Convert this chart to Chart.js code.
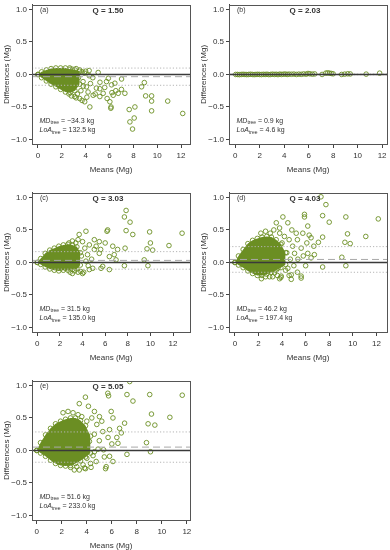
<!DOCTYPE html>
<html>
<head>
<meta charset="utf-8">
<script src="https://cdn.jsdelivr.net/npm/chart.js@4.4.1/dist/chart.umd.min.js"></script>
<style>
  html, body { margin: 0; padding: 0; background: #fff; }
  #wrap { position: relative; width: 390px; height: 550px; overflow: hidden; }
  .panel { position: absolute; }
</style>
</head>
<body>
<div id="wrap">
  <div class="panel" style="left:0;top:0;"><canvas id="pa" width="195" height="176"></canvas></div>
  <div class="panel" style="left:197px;top:0;"><canvas id="pb" width="195" height="176"></canvas></div>
  <div class="panel" style="left:0;top:188px;"><canvas id="pc" width="195" height="176"></canvas></div>
  <div class="panel" style="left:197px;top:188px;"><canvas id="pd" width="195" height="176"></canvas></div>
  <div class="panel" style="left:0;top:376px;"><canvas id="pe" width="195" height="174"></canvas></div>
</div>
<script>
const PANEL_TAGS = ['(a)', '(b)', '(c)', '(d)', '(e)'];
const Q_VALUES = ['1.50', '2.03', '3.03', '4.03', '5.05'];
const MD_KG = [-34.3, 0.9, 31.5, 46.2, 51.6];
const LOA_KG = [132.5, 4.6, 135.0, 197.4, 233.0];
const X_TICKS = [0, 2, 4, 6, 8, 10, 12];
const Y_TICKS = [-1, -0.5, 0, 0.5, 1];
const X_MIN = [-0.5, -0.5, -0.47, -0.5, -0.38];
const X_MAX = [12.75, 12.4, 13.5, 12.9, 12.25];

// dense cores (upper / lower edge of the solid cloud)
const CORE_UP_A = [[0,0],[0.3,0.04],[0.7,0.07],[1.1,0.09],[1.5,0.1],[1.9,0.1],[2.3,0.1],[2.7,0.08],[3.1,0.07],[3.5,0.05]];
const CORE_LO_A = [[0,0],[0.3,-0.05],[0.7,-0.1],[1.1,-0.15],[1.5,-0.19],[1.9,-0.23],[2.3,-0.27],[2.7,-0.28],[3.1,-0.25],[3.5,-0.15]];
const CORE_UP_C = [[0,0],[0.3,0.06],[0.7,0.14],[1.1,0.19],[1.5,0.22],[1.9,0.25],[2.3,0.27],[2.7,0.28],[3.1,0.27],[3.5,0.24],[3.8,0.15]];
const CORE_LO_C = [[0,0],[0.3,-0.03],[0.7,-0.07],[1.1,-0.1],[1.5,-0.12],[1.9,-0.13],[2.3,-0.12],[2.7,-0.12],[3.1,-0.11],[3.5,-0.1],[3.8,-0.04]];
const CORE_UP_D = [[0,0],[0.3,0.1],[0.7,0.2],[1.1,0.29],[1.5,0.34],[1.9,0.37],[2.3,0.39],[2.7,0.4],[3.1,0.39],[3.5,0.35],[3.9,0.28],[4.3,0.15]];
const CORE_LO_D = [[0,0],[0.3,-0.04],[0.7,-0.08],[1.1,-0.13],[1.5,-0.17],[1.9,-0.2],[2.3,-0.2],[2.7,-0.18],[3.1,-0.15],[3.5,-0.12],[3.9,-0.08],[4.3,-0.03]];
const CORE_UP_E = [[0,0],[0.3,0.12],[0.7,0.24],[1.1,0.34],[1.5,0.41],[1.9,0.45],[2.3,0.48],[2.7,0.5],[3.1,0.5],[3.5,0.46],[3.9,0.38],[4.3,0.22]];
const CORE_LO_E = [[0,0],[0.3,-0.04],[0.7,-0.09],[1.1,-0.15],[1.5,-0.2],[1.9,-0.23],[2.3,-0.24],[2.7,-0.23],[3.1,-0.2],[3.5,-0.16],[3.9,-0.1],[4.3,-0.04]];

// scattered trees (mean, difference) in Mg
const PTS_A = [[2.66,0.1],[2.9,0.08],[3.2,0.09],[3.5,0.07],[3.7,0.04],[4.0,0.05],[4.29,0.06],[5.05,0.03],
  [3.0,-0.2],[3.3,-0.3],[3.6,-0.25],[3.8,-0.18],[3.08,-0.34],[3.5,-0.37],[3.92,-0.42],[4.35,-0.5],[4.2,-0.27],
  [4.4,-0.14],[4.63,-0.32],[4.8,-0.3],[4.9,-0.21],[5.19,-0.22],[5.19,-0.34],[5.2,-0.12],[3.78,-0.11],[4.07,-0.19],
  [3.4,-0.05],[3.9,0.02],[4.3,-0.02],[4.6,-0.05],[5.47,-0.29],[5.6,-0.2],[5.75,-0.11],[5.8,-0.37],[5.9,-0.06],
  [6.03,-0.42],[6.11,-0.52],[6.13,-0.5],[6.17,-0.16],[6.2,-0.28],[6.31,-0.32],[6.45,-0.135],[6.53,-0.25],[6.73,-0.29],
  [7.01,-0.07],[7.0,-0.23],[7.29,-0.29],[7.65,-0.54],[7.71,-0.73],[7.93,-0.84],[8.07,-0.67],[8.13,-0.5],[8.69,-0.19],
  [8.92,-0.125],[9.03,-0.33],[9.53,-0.33],[9.53,-0.41],[9.53,-0.56],[10.88,-0.41],[12.14,-0.6],
  [2.8,-0.33],[3.2,-0.36],[3.7,-0.4],[4.1,-0.35],[2.6,-0.3]];
const PTS_B = [[0.05,0],[0.2,0],[0.35,-0.003],[0.5,0],[0.65,0.002],[0.8,0],[0.95,-0.002],[1.1,0],[1.25,0.003],
  [1.4,0],[1.55,-0.002],[1.7,0],[1.85,0.002],[2.0,0],[2.15,-0.002],[2.3,0.002],[2.45,0],[2.6,0.003],[2.75,-0.002],
  [2.9,0],[3.05,0.004],[3.2,0],[3.35,0.003],[3.5,-0.002],[3.65,0.005],[3.8,0],[3.95,0.004],[4.1,0.006],[4.25,0],
  [4.4,0.005],[4.6,0.003],[4.8,0.006],[5.0,0],[5.2,0.005],[5.4,0.002],[5.6,0.008],[5.8,0.004],[5.95,0.015],
  [6.1,0.01],[6.3,0.005],[6.5,0.008],[7.1,0],[7.4,0.02],[7.55,0.025],[7.7,0.02],[7.85,0.015],[8.0,0.01],
  [8.7,0],[8.95,0.005],[9.2,0.01],[9.4,0.008],[10.7,0.005],[11.8,0.02]];
const PTS_C = [[7.85,0.8],[7.7,0.7],[8.2,0.62],[7.85,0.49],[8.44,0.43],[9.93,0.47],[12.8,0.45],[11.64,0.26],
  [10.0,0.3],[10.2,0.19],[9.7,0.21],[9.45,0.04],[9.78,-0.05],[7.7,-0.05],[7.76,0.22],[7.1,0.2],[6.67,0.25],
  [6.8,0.12],[6.96,0.04],[6.22,0.5],[6.16,0.48],[6.0,0.3],[5.48,0.32],[5.04,0.35],[4.3,0.48],[3.7,0.43],
  [5.78,-0.06],[5.63,-0.09],[6.37,-0.11],[4.9,-0.09],[3.85,-0.14],[4.0,-0.17],[4.6,-0.11],[3.1,-0.17],[2.5,-0.09],
  [5.04,0.2],[5.48,0.14],[4.44,0.12],[6.37,0.09],[4.6,0.27],[3.4,0.3],
  [2.8,0.3],[3.1,0.33],[3.6,0.35],[4.0,0.32],[4.2,0.22],[3.9,0.1],[4.3,0.02],[4.8,0.05],[5.2,0.25],[5.6,0.2],
  [4.5,-0.05],[3.6,-0.15],[4.1,-0.15],[3.3,-0.13],[2.9,-0.15]];
const PTS_D = [[7.3,1.01],[7.72,0.89],[8.0,0.62],[7.44,0.72],[9.41,0.7],[9.55,0.44],[9.33,0.31],[9.78,0.29],
  [11.1,0.4],[12.16,0.67],[9.07,0.08],[9.41,-0.05],[7.44,-0.07],[7.44,0.39],[7.08,0.31],[6.69,0.25],[5.9,0.74],
  [5.9,0.7],[6.18,0.56],[5.76,0.45],[5.2,0.45],[4.07,0.7],[3.51,0.61],[3.79,0.53],[4.49,0.61],[4.83,0.5],[6.46,0.38],
  [6.18,0.14],[6.46,0.07],[6.74,0.12],[5.62,0.22],[5.06,0.14],[5.34,0.05],[5.62,-0.21],[5.62,-0.24],[4.78,-0.19],
  [4.78,-0.26],[3.79,-0.25],[3.93,-0.21],[3.37,-0.16],[2.25,-0.25],[2.95,-0.22],[4.49,-0.09],[3.65,-0.09],
  [3.0,0.45],[3.3,0.5],[2.6,0.48],[2.2,0.45],[3.8,0.45],[4.2,0.4],[4.0,0.3],[4.6,0.35],[4.9,0.25],[5.3,0.35],
  [4.4,0.15],[4.7,0.05],[5.0,-0.05],[4.3,-0.12],[3.6,-0.2],[3.2,-0.22],[2.6,-0.22],[4.6,-0.2],[5.3,-0.15],
  [3.9,-0.23],[6.1,0.3],[5.8,0.1],[6.0,-0.05],[6.3,0.42]];
const PTS_E = [[7.43,1.06],[5.68,0.88],[5.74,0.84],[7.21,0.86],[9.03,0.86],[11.63,0.85],[7.69,0.76],[3.89,0.82],
  [3.4,0.72],[4.13,0.68],[9.17,0.56],[10.64,0.51],[8.9,0.41],[9.44,0.39],[8.77,0.12],[9.09,-0.02],[7.21,-0.06],
  [7.02,0.42],[6.62,0.34],[6.76,0.27],[6.49,0.11],[5.95,0.6],[6.09,0.5],[5.82,0.32],[5.28,0.29],[5.01,0.52],
  [4.61,0.6],[5.34,0.01],[5.55,-0.25],[5.5,-0.28],[4.75,-0.17],[4.34,-0.26],[3.81,-0.27],[3.4,-0.3],[3.0,-0.3],
  [4.0,-0.12],[6.09,-0.17],[5.82,-0.09],[4.61,-0.02],[4.21,0.14],
  [2.1,0.58],[2.5,0.6],[2.9,0.58],[3.3,0.55],[3.6,0.52],[4.0,0.45],[4.4,0.5],[4.8,0.4],[5.2,0.45],[4.6,0.25],
  [5.0,0.15],[4.9,0.02],[4.5,-0.08],[3.7,-0.22],[3.2,-0.25],[2.7,-0.26],[3.9,-0.28],[4.3,-0.2],[5.4,-0.1],
  [6.0,0.1],[5.7,0.2],[6.4,0.2]];

const GREEN = '#6b8e23';
const FONT = '"Liberation Sans", Arial, Helvetica, sans-serif';
Chart.defaults.font.family = FONT;
Chart.defaults.font.size = 8;
Chart.defaults.color = '#333';

const fmtKg = v => v.toFixed(1).replace('-', '\u2212');

function subLabel(ctx, main, sub, rest, x, y) {
  ctx.font = 'italic 7px ' + FONT;
  ctx.fillText(main, x, y);
  x += ctx.measureText(main).width;
  ctx.font = '5px ' + FONT;
  ctx.fillText(sub, x, y + 2);
  x += ctx.measureText(sub).width;
  ctx.font = '7px ' + FONT;
  ctx.fillText(rest, x, y);
}

const annot = {
  id: 'annot',
  afterDraw(chart, args, o) {
    const { ctx, chartArea: a } = chart;
    ctx.save();
    ctx.strokeStyle = '#555';
    ctx.lineWidth = 1;
    ctx.strokeRect(Math.round(a.left) + 0.5, Math.round(a.top) + 0.5, Math.round(a.right - a.left), Math.round(a.bottom - a.top));
    ctx.fillStyle = '#333';
    ctx.textBaseline = 'middle';
    ctx.textAlign = 'left';
    ctx.font = '7px ' + FONT;
    ctx.fillText(PANEL_TAGS[o.i], a.left + 8, a.top + 5.5);
    ctx.font = 'bold 8px ' + FONT;
    ctx.textAlign = 'center';
    ctx.fillText('Q = ' + Q_VALUES[o.i], (a.left + a.right) / 2 - 3, a.top + 5.5);
    ctx.textAlign = 'left';
    subLabel(ctx, 'MD', 'tree', ' = ' + fmtKg(MD_KG[o.i]) + ' kg', a.left + 7.5, a.bottom - 23);
    subLabel(ctx, 'LoA', 'tree', ' = ' + fmtKg(LOA_KG[o.i]) + ' kg', a.left + 7.5, a.bottom - 13.5);
    ctx.font = '8px ' + FONT;
    ctx.textAlign = 'center';
    ctx.fillText('Means (Mg)', (a.left + a.right) / 2, a.bottom + 26);
    ctx.translate(a.left - 25, (a.top + a.bottom) / 2);
    ctx.rotate(-Math.PI / 2);
    ctx.fillText('Differences (Mg)', 0, 0);
    ctx.restore();
  }
};

const toXY = arr => arr.map(p => ({ x: p[0], y: p[1] }));

function makePanel(id, i, pts, coreUp, coreLo) {
  const canvas = document.getElementById(id);
  const H = canvas.height;
  const lo = X_MIN[i], hi = X_MAX[i];
  const md = MD_KG[i] / 1000, loa = LOA_KG[i] / 1000;
  const hline = (y, color, width, dash) => ({
    data: [{ x: lo, y }, { x: hi, y }], borderColor: color, borderWidth: width,
    borderDash: dash, pointRadius: 0, fill: false
  });
  const dot = { showLine: false, pointRadius: 2.3, pointBorderWidth: 0.9, pointBorderColor: GREEN, pointBackgroundColor: 'rgba(0,0,0,0)' };

  const datasets = [
    hline(0, '#3a3a3a', 1.6, []),
    hline(md, '#a8a8a8', 1, [7, 4]),
    hline(md + loa, '#b5b5b5', 1, [1.2, 2]),
    hline(md - loa, '#b5b5b5', 1, [1.2, 2]),
    { ...dot, data: toXY(pts) }
  ];
  if (coreUp) {
    datasets.push({ ...dot, data: toXY(coreUp), showLine: true, borderColor: 'rgba(0,0,0,0)', backgroundColor: GREEN, fill: '+1' });
    datasets.push({ ...dot, data: toXY(coreLo), showLine: true, borderColor: 'rgba(0,0,0,0)', fill: false });
  }

  new Chart(canvas, {
    type: 'line',
    data: { datasets },
    options: {
      responsive: false,
      animation: false,
      events: [],
      layout: { padding: { top: 4, right: 5, left: 0, bottom: 0 } },
      plugins: { legend: { display: false }, tooltip: { enabled: false }, annot: { i } },
      scales: {
        x: {
          type: 'linear', min: lo, max: hi,
          afterBuildTicks: s => { s.ticks = X_TICKS.map(v => ({ value: v })); },
          afterFit: s => { s.height = H - 144; s.paddingLeft = 0; s.paddingRight = 0; },
          grid: { drawOnChartArea: false, tickLength: 4, color: '#444' },
          border: { color: '#444' },
          ticks: { padding: 3, maxRotation: 0, autoSkip: false, callback: v => String(v) }
        },
        y: {
          type: 'linear', min: -1.07, max: 1.07,
          afterBuildTicks: s => { s.ticks = Y_TICKS.map(v => ({ value: v })); },
          afterFit: s => { s.width = 32; s.paddingTop = 0; s.paddingBottom = 0; },
          grid: { drawOnChartArea: false, tickLength: 3, color: '#444' },
          border: { color: '#444' },
          ticks: { padding: 2, callback: v => v.toFixed(1).replace('-', '\u2212') }
        }
      }
    },
    plugins: [annot]
  });
}

makePanel('pa', 0, PTS_A, CORE_UP_A, CORE_LO_A);
makePanel('pb', 1, PTS_B, null, null);
makePanel('pc', 2, PTS_C, CORE_UP_C, CORE_LO_C);
makePanel('pd', 3, PTS_D, CORE_UP_D, CORE_LO_D);
makePanel('pe', 4, PTS_E, CORE_UP_E, CORE_LO_E);
</script>
</body>
</html>
